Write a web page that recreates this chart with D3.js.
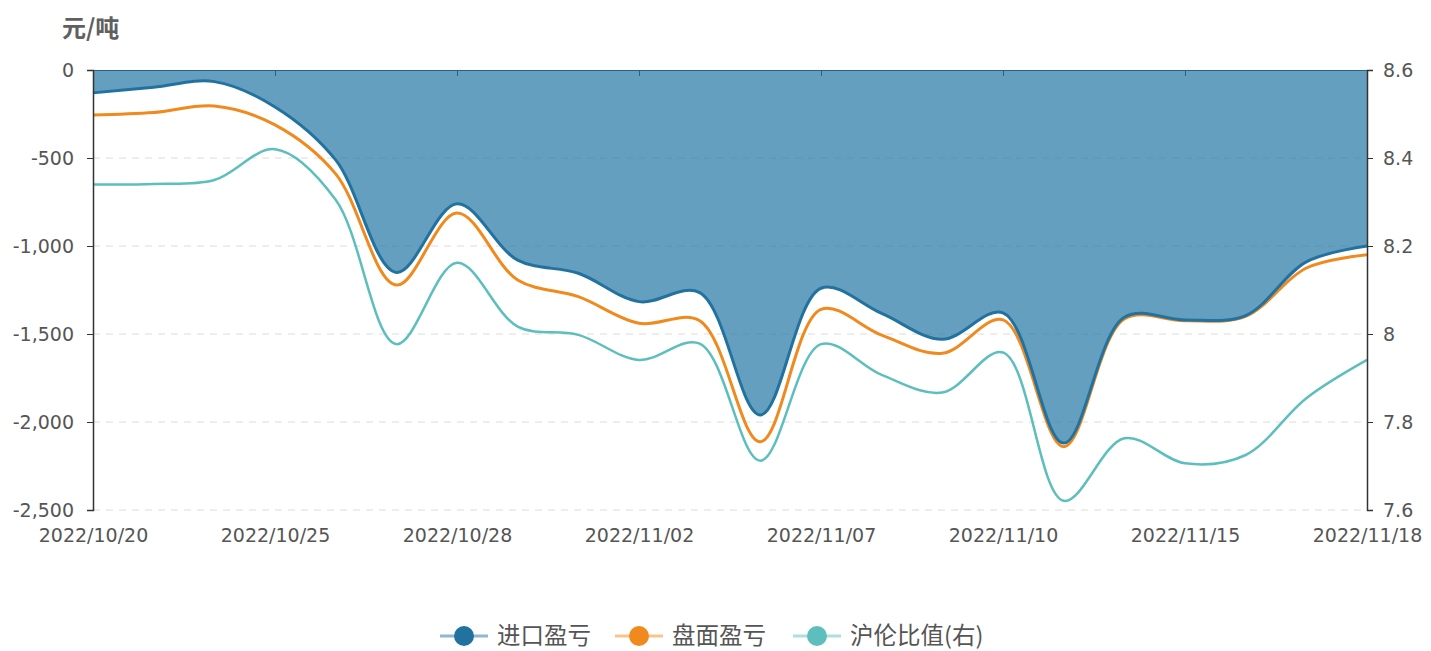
<!DOCTYPE html>
<html>
<head>
<meta charset="utf-8">
<script src="https://cdn.jsdelivr.net/npm/d3@7"></script>
<style>
  body { margin: 0; background: #fff; }
  svg { display: block; }
  .tick text { font-family: "DejaVu Sans", Verdana, sans-serif; font-size: 19px; fill: #555; }
</style>
</head>
<body>
<svg id="chart"></svg>
<script>
const dates = ["2022/10/20","2022/10/21","2022/10/24","2022/10/25","2022/10/26","2022/10/27","2022/10/28",
  "2022/10/31","2022/11/01","2022/11/02","2022/11/03","2022/11/04","2022/11/07","2022/11/08","2022/11/09",
  "2022/11/10","2022/11/11","2022/11/14","2022/11/15","2022/11/16","2022/11/17","2022/11/18"]

// 进口盈亏 (元/吨)
const importPL = [-130, -98, -66, -210, -511, -1150, -760, -1080, -1155, -1316, -1265, -1960,
  -1240, -1383, -1530, -1380, -2120, -1405, -1420, -1395, -1090, -1000]
// 盘面盈亏 (元/吨)
const futuresPL = [-256, -242, -205, -312, -590, -1222, -813, -1193, -1288, -1439, -1425, -2112,
  -1360, -1506, -1610, -1420, -2140, -1415, -1425, -1400, -1125, -1050]
// 沪伦比值 (右轴)
const ratio = [8.340, 8.341, 8.350, 8.420, 8.305, 7.977, 8.162, 8.017, 7.998, 7.941, 7.978, 7.712,
  7.977, 7.907, 7.867, 7.958, 7.621, 7.763, 7.706, 7.725, 7.854, 7.941]

const leftTicks = [0, -500, -1000, -1500, -2000, -2500]
const rightTicks = [8.6, 8.4, 8.2, 8, 7.8, 7.6]
const labelDates = dates.filter((d, i) => i % 3 === 0)

const seriesNames = ["进口盈亏", "盘面盈亏", "沪伦比值(右)"]
const colors = ["#22729f", "#f08a1e", "#5dbfbd"]

const width = 1431, height = 651
const margin = {top: 70, right: 64, bottom: 141, left: 93}

const svg = d3.select("#chart").attr("width", width).attr("height", height)

const x = d3.scalePoint()
    .domain(dates)
    .range([margin.left, width - margin.right])

const y = d3.scaleLinear()
    .domain([-2500, 0])
    .range([height - margin.bottom, margin.top])

const yR = d3.scaleLinear()
    .domain([7.6, 8.6])
    .range([height - margin.bottom, margin.top])

const curve = d3.curveCatmullRom.alpha(0.5)

const line = scale => d3.line()
    .x((d, i) => x(dates[i]))
    .y(d => scale(d))
    .curve(curve)

// grid
svg.append("g")
    .selectAll("line")
    .data(leftTicks.slice(1))
    .join("line")
    .attr("x1", margin.left)
    .attr("x2", width - margin.right)
    .attr("y1", d => y(d))
    .attr("y2", d => y(d))
    .attr("stroke", "#dcdcdc")
    .attr("stroke-dasharray", "7,6")

// x axis on the zero line (ticks only)
svg.append("g")
    .attr("transform", `translate(0,${y(0)})`)
    .call(d3.axisBottom(x).tickValues(labelDates).tickSize(6).tickFormat(""))
    .call(g => g.select(".domain").attr("stroke", "#333"))
    .call(g => g.selectAll(".tick line").attr("stroke", "#333"))

// area for 进口盈亏
svg.append("path")
    .datum(importPL)
    .attr("fill", "#2376a5")
    .attr("fill-opacity", 0.7)
    .attr("d", d3.area()
        .x((d, i) => x(dates[i]))
        .y0(y(0))
        .y1(d => y(d))
        .curve(curve))

svg.append("path").datum(ratio)
    .attr("fill", "none").attr("stroke", colors[2]).attr("stroke-width", 2.5)
    .attr("d", line(yR))

svg.append("path").datum(futuresPL)
    .attr("fill", "none").attr("stroke", colors[1]).attr("stroke-width", 3)
    .attr("d", line(y))

svg.append("path").datum(importPL)
    .attr("fill", "none").attr("stroke", colors[0]).attr("stroke-width", 3)
    .attr("d", line(y))

// left axis
svg.append("g")
    .attr("transform", `translate(${margin.left},0)`)
    .call(d3.axisLeft(y).tickValues(leftTicks).tickSize(6).tickPadding(13)
        .tickFormat(d => d3.format(",")(d).replace("−", "-")))
    .call(g => g.select(".domain").attr("stroke", "#333").attr("stroke-width", 1.5))
    .call(g => g.selectAll(".tick line").attr("stroke", "#333"))

// right axis
svg.append("g")
    .attr("transform", `translate(${width - margin.right},0)`)
    .call(d3.axisRight(yR).tickValues(rightTicks).tickSize(6).tickPadding(10)
        .tickFormat(d => String(d)))
    .call(g => g.select(".domain").attr("stroke", "#333").attr("stroke-width", 1.5))
    .call(g => g.selectAll(".tick line").attr("stroke", "#333"))

// x labels at the bottom
svg.append("g")
    .attr("transform", `translate(0,${y(-2500)})`)
    .call(d3.axisBottom(x).tickValues(labelDates).tickSize(0).tickPadding(19))
    .call(g => g.select(".domain").remove())

// y title
svg.append("text")
    .attr("x", 62)
    .attr("y", 37)
    .attr("font-family", "'Noto Sans CJK SC', sans-serif")
    .attr("font-size", 24)
    .attr("font-weight", "bold")
    .attr("fill", "#606060")
    .text("元/吨")

// legend
const legendX = [440, 615, 793]
const legend = svg.append("g")
    .selectAll("g")
    .data(seriesNames)
    .join("g")
    .attr("transform", (d, i) => `translate(${legendX[i]},636)`)

legend.append("line")
    .attr("x1", 0).attr("x2", 48)
    .attr("stroke", (d, i) => colors[i])
    .attr("stroke-opacity", 0.5)
    .attr("stroke-width", 3)

legend.append("circle")
    .attr("cx", 24).attr("r", 10)
    .attr("fill", (d, i) => colors[i])

legend.append("text")
    .attr("x", 57)
    .attr("y", 8)
    .attr("font-family", "'Noto Sans CJK SC', sans-serif")
    .attr("font-size", 23.5)
    .attr("fill", "#555")
    .text(d => d)
</script>
</body>
</html>
